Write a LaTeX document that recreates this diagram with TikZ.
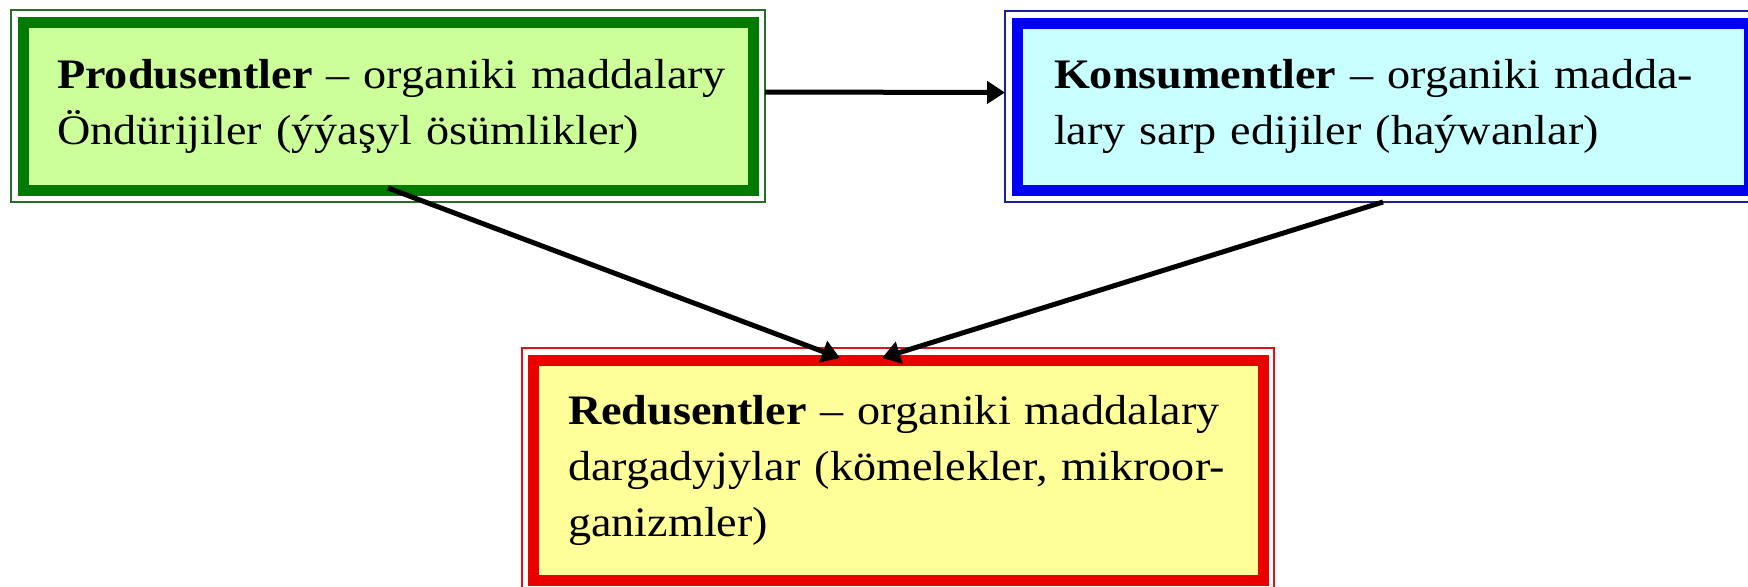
\documentclass[tikz,border=0pt]{standalone}
\usepackage{fontspec}
\setmainfont{Liberation Serif}[FakeStretch=1.1]
\usetikzlibrary{arrows.meta,calc}
\pgfdeclarelayer{bg}
\pgfsetlayers{bg,main}
\definecolor{gthin}{RGB}{40,110,40}
\definecolor{gband}{RGB}{0,122,0}
\definecolor{gfill}{RGB}{204,255,153}
\definecolor{bthin}{RGB}{30,30,150}
\definecolor{bband}{RGB}{0,0,245}
\definecolor{bfill}{RGB}{200,255,255}
\definecolor{rthin}{RGB}{220,20,20}
\definecolor{rband}{RGB}{235,0,0}
\definecolor{rfill}{RGB}{255,255,153}
\tikzset{
  boxnode/.style={draw=#1, line width=1pt, inner sep=0pt, outer sep=0pt,
    text width=331pt, align=left, font=\fontsize{21pt}{28pt}\selectfont},
  band/.style={line width=5.5pt, draw=#1},
  arr/.style={line width=2.5pt, -{Triangle[length=9pt,width=11pt]}}
}
\begin{document}
\begin{tikzpicture}
\useasboundingbox (0,0) rectangle (874pt,293pt);
% boxes
\node[boxnode=gthin, minimum width=377pt, minimum height=96pt] (green) at (194pt,240pt)
  {\makebox[331pt][s]{\textbf{Produsentler} – organiki maddalary}\\
   Öndürijiler (ýýaşyl ösümlikler)};
\node[boxnode=bthin, minimum width=378pt, minimum height=95.5pt, text width=329pt] (blue) at (691.5pt,239.75pt)
  {\makebox[329pt][s]{\textbf{Konsumentler} – organiki madda-}\\
   lary sarp edijiler (haýwanlar)};
\node[boxnode=rthin, minimum width=376pt, minimum height=122pt, text width=330pt] (red) at (449pt,58pt)
  {\makebox[330pt][s]{\textbf{Redusentler} – organiki maddalary}\\
   \makebox[330pt][s]{dargadyjylar (kömelekler, mikroor-}\\
   ganizmler)};
\begin{pgfonlayer}{bg}
  \draw[band=gband, fill=gfill] ($(green.south west)+(6pt,6pt)$) rectangle ($(green.north east)+(-6pt,-6pt)$);
  \draw[band=bband, fill=bfill] ($(blue.south west)+(6pt,6pt)$) rectangle ($(blue.north east)+(-6pt,-6pt)$);
  \draw[band=rband, fill=rfill] ($(red.south west)+(5.5pt,6pt)$) rectangle ($(red.north east)+(-5.5pt,-6pt)$);
\end{pgfonlayer}
% connector end points
\coordinate (gs) at ($(green.south)+(0,7pt)$);
\coordinate (bs) at ($(blue.south)+(0,0pt)$);
\coordinate (rt1) at ($(red.north)+(-29pt,-5pt)$);
\coordinate (rt2) at ($(red.north)+(-8pt,-5pt)$);
\draw[arr] ($(green.east)+(0,7pt)$) -- ($(blue.west)+(0,7pt)$);
\draw[arr] (gs) -- (rt1);
\draw[arr] (bs) -- (rt2);
\end{tikzpicture}
\end{document}
